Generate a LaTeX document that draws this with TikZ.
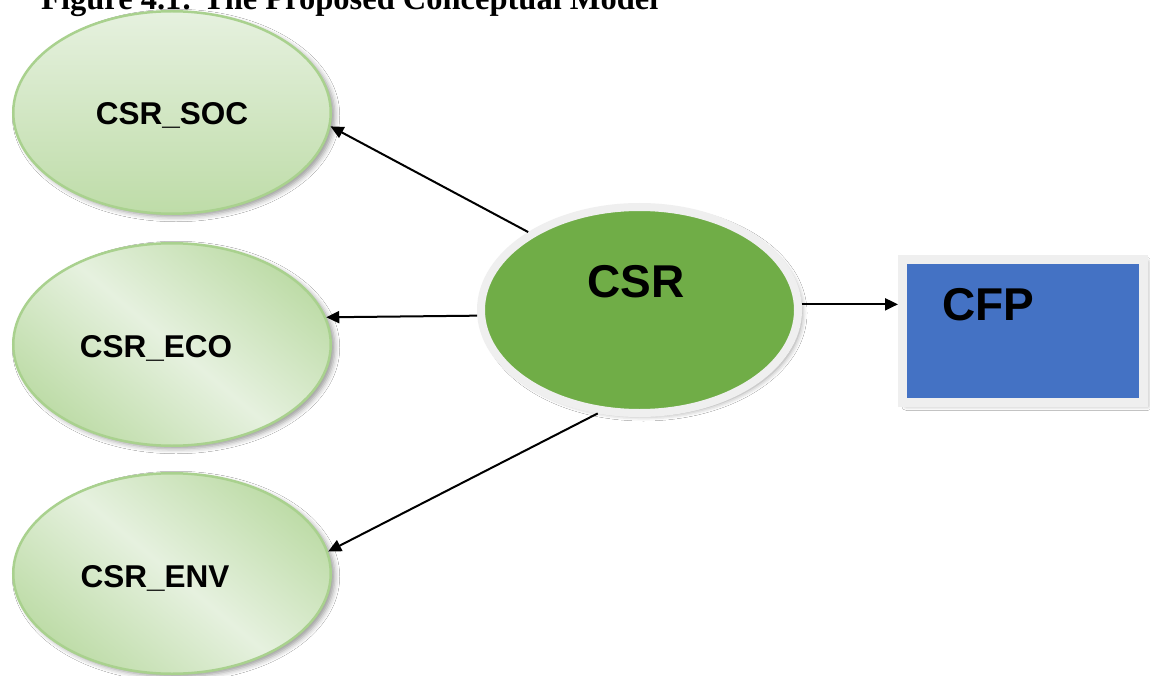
\documentclass[tikz,border=0pt]{standalone}
\usepackage{fontspec}
\setmainfont{Liberation Sans}
\newfontfamily\titlefont{Liberation Serif}
\usetikzlibrary{arrows.meta,shapes.geometric,shadows.blur}

\definecolor{leafborder}{HTML}{A9D18E}
\definecolor{leaflight}{HTML}{E6F1DF}
\definecolor{leafdark}{HTML}{BEDCA8}
\definecolor{coregreen}{HTML}{70AD47}
\definecolor{ringgrey}{HTML}{EFEFEF}
\definecolor{boxblue}{HTML}{4472C4}

\begin{document}
\begin{tikzpicture}[x=1pt,y=-1pt,
  soft shadow/.style={blur shadow={shadow xshift=4pt,shadow yshift=-3pt,
      shadow blur radius=5pt,shadow opacity=40}},
  dimension/.style={ellipse,draw=leafborder,line width=2.5pt,
      minimum width=317.5pt,minimum height=202.5pt,inner sep=0pt,soft shadow},
  plainshade/.style={top color=leaflight,bottom color=leafdark},
  diagshade/.style={top color=leafdark,bottom color=leafdark,
      middle color=leaflight,shading angle=-40},
  construct/.style={ellipse,fill=coregreen,draw=ringgrey,line width=8pt,
      minimum width=317pt,minimum height=206pt,inner sep=0pt,soft shadow},
  outcome/.style={rectangle,fill=boxblue,draw=ringgrey,line width=9pt,
      minimum width=241pt,minimum height=143pt,inner sep=0pt,soft shadow},
  lbl/.style={anchor=base,inner sep=0pt,
      font=\bfseries\fontsize{31.5}{36}\selectfont},
  biglbl/.style={anchor=base,inner sep=0pt,
      font=\bfseries\fontsize{46}{52}\selectfont},
  link/.style={line width=2pt,-{Triangle[length=13pt,width=12pt]}}
]
\useasboundingbox (0,0) rectangle (1150,676);
\clip (0,0) rectangle (1150,676);
\fill[white] (0,0) rectangle (1150,676);

% caption line, partly above the page
\node[anchor=base west,inner sep=0pt,
      font=\titlefont\bfseries\fontsize{32.5}{38}\selectfont] (title) at (41,10)
  {Figure 4.1: The Proposed Conceptual Model};

% dimension ellipses
\node[dimension,plainshade] (soc) at (172,112.5) {};
\node[dimension,diagshade]  (eco) at (172,344.5) {};
\node[dimension,diagshade,minimum height=200.5pt] (env) at (172,573.5) {};

% central construct and outcome
\node[construct] (csr) at (639.5,310) {};
\node[outcome] (cfp) at (1023,331) {};

% labels
\node[lbl] (soclbl) at (172,125) {CSR\_SOC};
\node[lbl] (ecolbl) at (156,357) {CSR\_ECO};
\node[lbl] (envlbl) at (155,587) {CSR\_ENV};
\node[biglbl] (csrlbl) at (636,297) {CSR};
\node[biglbl] (cfplbl) at (988,320) {CFP};

% connectors
\draw[link] (csr.145) -- (soc.-5);
\draw[link] (csr.182) -- (eco.10);
\draw[link] (csr.248) -- (env.8);
\draw[link] (csr.2) -- (csr.2 -| cfp.west);
\end{tikzpicture}
\end{document}
